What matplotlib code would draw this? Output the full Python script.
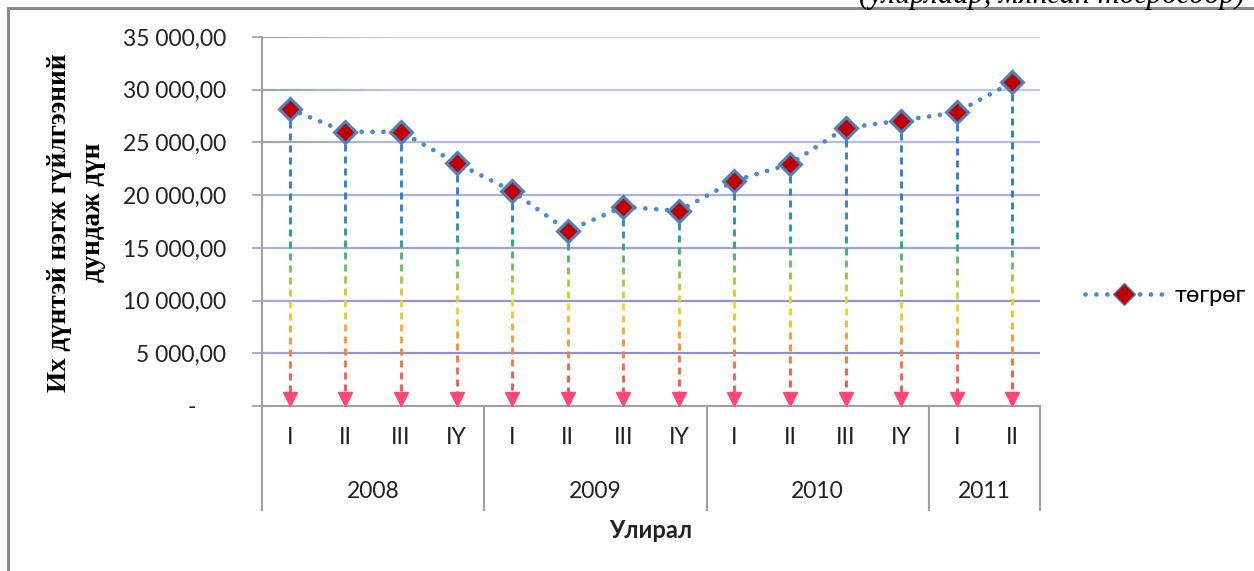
import numpy as np
import matplotlib.pyplot as plt
from matplotlib.collections import LineCollection
from matplotlib.colors import LinearSegmentedColormap, to_rgba
from matplotlib.lines import Line2D
from matplotlib.transforms import ScaledTranslation, blended_transform_factory

# data
quarters = ["I", "II", "III", "IY", "I", "II", "III", "IY", "I", "II", "III", "IY", "I", "II"]
years = ["2008", "2009", "2010", "2011"]
quarters_per_year = [4, 4, 4, 2]
values = [28170, 26010, 26010, 23050, 20400, 16620, 18900, 18500,
          21360, 22950, 26370, 27070, 27860, 30700]
series_name = "төгрөг"
y_ticks = [0, 5000, 10000, 15000, 20000, 25000, 30000, 35000]

W, H = 1254, 571
fig = plt.figure(figsize=(W / 100, H / 100), dpi=100)
ax = fig.add_axes([262 / W, 1 - 406 / H, (1040 - 262) / W, (406 - 37) / H])

x = np.arange(len(values))
ax.set_xlim(-0.5, len(values) - 0.5)
ax.set_ylim(0, 35000)

px = 35000 / 369  # data units per pixel (vertical)

# gridlines with a soft horizontal gradient
def grad_line(y, c_left, c_right, n=60):
    xs = np.linspace(-0.5, len(values) - 0.5, n + 1)
    segs = [[(xs[i], y), (xs[i + 1], y)] for i in range(n)]
    a, b = np.array(to_rgba(c_left)), np.array(to_rgba(c_right))
    t = np.clip((np.arange(n) + 0.5) / n / 0.18, 0, 1)[:, None]
    cols = a * (1 - t) + b * t
    ax.add_collection(LineCollection(segs, colors=cols, linewidths=1.6, zorder=1))

grid_cols = {5000: ("#a4a6dc", "#8e90cc"), 10000: ("#a8acdc", "#9294d0"),
             15000: ("#aab2dc", "#9ea2d6"), 20000: ("#a9b8c8", "#aab0e0"),
             25000: ("#97ad97", "#b4bae6"), 30000: ("#93aa93", "#c0c6ee"),
             35000: ("#8fa68f", "#c8cff4")}
for yv in y_ticks[1:]:
    grad_line(yv, *grid_cols[yv])

# drop lines: dashed, colour changes with height
drop_cmap = LinearSegmentedColormap.from_list("drop", [
    (0.0, "#ff3a6a"), (3000 / 35000, "#ff5840"), (6500 / 35000, "#ff9a26"),
    (9500 / 35000, "#f0dc18"), (12500 / 35000, "#86c83e"), (15500 / 35000, "#19a2a0"),
    (19000 / 35000, "#2a7ad8"), (1.0, "#2a7ad8")])
dash, gap = 7 * px, 5 * px
arrow_top = 13 * px
for xi, v in zip(x, values):
    segs, cols = [], []
    y = v
    while y > arrow_top:
        y2 = max(y - dash, arrow_top)
        segs.append([(xi, y), (xi, y2)])
        cols.append(drop_cmap(((y + y2) / 2) / 35000))
        y = y2 - gap
    ax.add_collection(LineCollection(segs, colors=cols, linewidths=2.0,
                                     capstyle="butt", zorder=2))

# arrow heads with the tip on the axis
tri_off = ax.transData + ScaledTranslation(0, 5 / 72, fig.dpi_scale_trans)
ax.plot(x, np.zeros(len(x)), linestyle="none", marker="v", markersize=10,
        color="#ff4677", transform=tri_off, zorder=3, clip_on=False)

# the series
line_kw = dict(color="#4a88d8", linewidth=3.4, linestyle=(0, (0.01, 2.3)),
               dash_capstyle="round")
ax.plot(x, values, zorder=4, **line_kw)
ax.plot(x, values, linestyle="none", marker="D", markersize=11,
        markerfacecolor="#c00000", markeredgecolor="#4f81bd",
        markeredgewidth=2.2, zorder=5)

# axes styling
for s in ["top", "right"]:
    ax.spines[s].set_visible(False)
for s in ["left", "bottom"]:
    ax.spines[s].set_color("#a0a0a0")
    ax.spines[s].set_linewidth(1.5)

font = "Lato"
fs = 16.5
ax.set_yticks(y_ticks)
def fmt(v):
    if v == 0:
        return "-     "
    return f"{v:,.2f}".replace(",", " ").replace(".", ",")
ax.set_yticklabels([fmt(v) for v in y_ticks], fontsize=fs, fontfamily=font, color="#222222")
ax.tick_params(axis="y", length=7, width=1.2, color="#a0a0a0", pad=19)
ax.set_xticks([])

# two-level category axis
trans = blended_transform_factory(ax.transData, ax.transAxes)
for xi, q in zip(x, quarters):
    ax.text(xi, -31 / 369, q, transform=trans, ha="center", va="center",
            fontsize=fs, fontfamily=font, color="#222222")
bounds = np.concatenate([[0], np.cumsum(quarters_per_year)]) - 0.5
for b in bounds:
    ax.plot([b, b], [0, -104 / 369], transform=trans, color="#a0a0a0",
            linewidth=1.5, clip_on=False)
for yr, a, b in zip(years, bounds[:-1], bounds[1:]):
    ax.text((a + b) / 2, -86 / 369, yr, transform=trans, ha="center", va="center",
            fontsize=fs, fontfamily=font, color="#222222")
ax.text(0.5, -124 / 369, "Улирал", transform=ax.transAxes, ha="center", va="center",
        fontsize=17, fontweight="bold", fontfamily=font, color="#222222")

# y-axis title
fig.text(60 / W, 1 - 223 / H, "Их дүнтэй нэгж гүйлгээний", rotation=90,
         ha="center", va="center", fontsize=19.5, fontweight="bold",
         fontfamily="Liberation Serif")
fig.text(93 / W, 1 - 212 / H, "дундаж дүн", rotation=90,
         ha="center", va="center", fontsize=19.5, fontweight="bold",
         fontfamily="Liberation Serif")

# legend
handle = Line2D([], [], marker="D", markersize=11, markerfacecolor="#c00000",
                markeredgecolor="#4f81bd", markeredgewidth=1, **line_kw)
fig.legend([handle], [series_name], loc="center left",
           bbox_to_anchor=(1064 / W, 1 - 296 / H), frameon=False,
           prop={"family": font, "size": 17}, handlelength=3.3, handletextpad=0.5)

# outer frame and the cut-off caption above it
fig.add_artist(Line2D([8 / W, 8 / W], [0, 1 - 8 / H], color="#8a8a8a", linewidth=2.2))
fig.add_artist(Line2D([8 / W, 1], [1 - 8 / H, 1 - 8 / H], color="#8a8a8a", linewidth=2.2))
fig.text(1245 / W, 1 - 3 / H, "(улирлаар, мянган төгрөгөөр)", ha="right", va="baseline",
         fontsize=22, fontstyle="italic", fontfamily="Liberation Serif")

fig.savefig("out.png", dpi=100)
